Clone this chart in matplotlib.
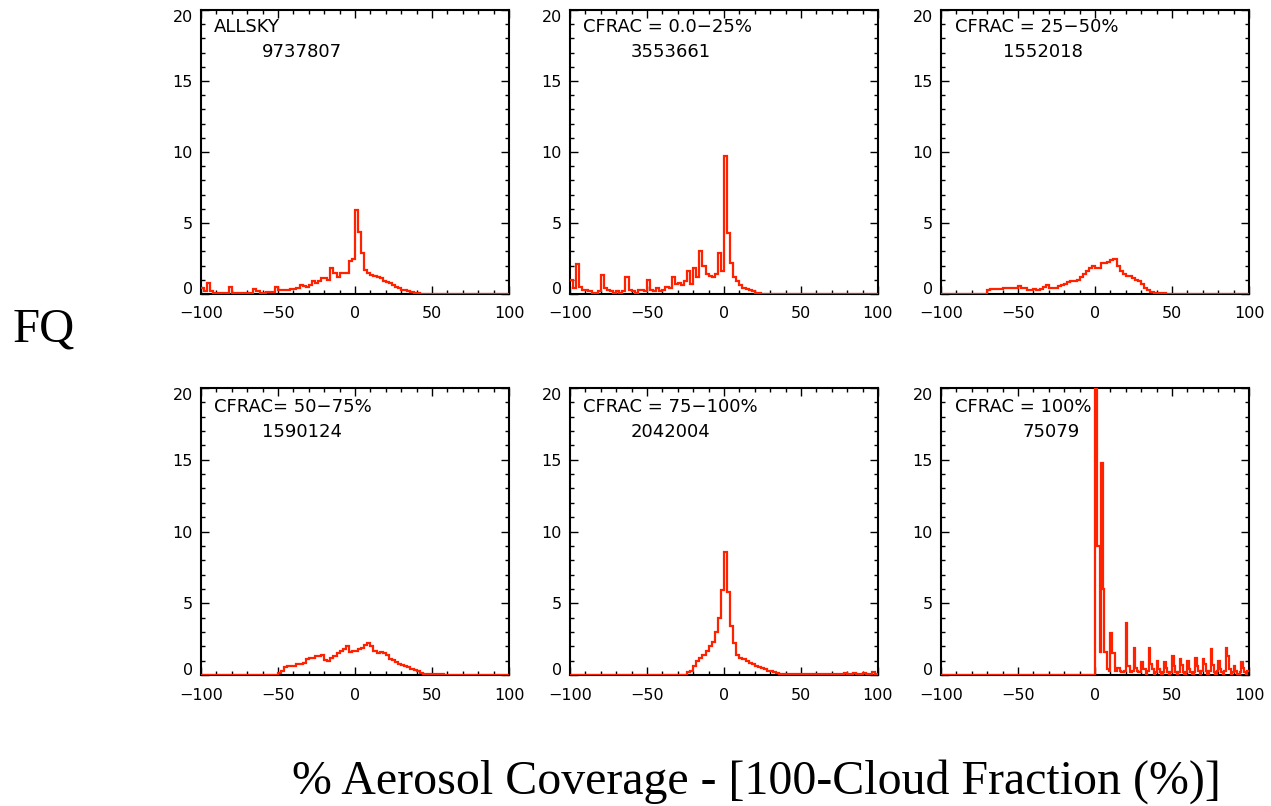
import numpy as np
import matplotlib
matplotlib.use("Agg")
import matplotlib.pyplot as plt
from matplotlib.ticker import MultipleLocator

# ---------------- data ----------------
titles = ["ALLSKY", "CFRAC = 0.0\u221225%", "CFRAC = 25\u221250%",
          "CFRAC= 50\u221275%", "CFRAC = 75\u2212100%", "CFRAC = 100%"]
counts = ["9737807", "3553661", "1552018", "1590124", "2042004", "75079"]
bin_starts = [-100, -100, -100, -100, -100, 0]
bin_widths = [2, 2, 2, 2, 2, 1]

fq_allsky = [
    0.4, 0.2, 0.8, 0.2, 0.1, 0.1, 0.1, 0.1, 0.1, 0.5,
    0.1, 0.1, 0.1, 0.1, 0.1, 0.1, 0.1, 0.35, 0.2, 0.1,
    0.1, 0.15, 0.15, 0.15, 0.5, 0.3, 0.25, 0.3, 0.3, 0.35,
    0.35, 0.4, 0.6, 0.55, 0.5, 0.6, 0.95, 0.8, 0.9, 1.1,
    1.1, 1.0, 1.8, 1.5, 1.2, 1.5, 1.5, 1.5, 2.3, 2.5,
    5.9, 4.4, 2.9, 1.7, 1.5, 1.35, 1.3, 1.2, 1.1, 0.95,
    0.85, 0.75, 0.6, 0.5, 0.4, 0.3, 0.25, 0.2, 0.12, 0.08,
    0.05, 0.03, 0, 0, 0, 0, 0, 0, 0, 0,
    0, 0, 0, 0, 0, 0, 0, 0, 0, 0,
    0, 0, 0, 0, 0, 0, 0, 0, 0, 0,
]
fq_cfrac_0_25 = [
    1.0, 0.4, 2.1, 0.5, 0.3, 0.3, 0.2, 0.1, 0.1, 0.2,
    1.35, 0.4, 0.3, 0.2, 0.1, 0.2, 0.1, 0.2, 1.2, 0.3,
    0.2, 0.1, 0.3, 0.3, 0.2, 1.0, 0.3, 0.2, 0.4, 0.2,
    0.3, 0.5, 0.4, 1.2, 0.7, 0.8, 0.6, 0.9, 1.6, 0.7,
    1.8, 1.2, 3.05, 2.0, 1.4, 1.3, 1.2, 1.4, 2.9, 1.6,
    9.7, 4.3, 2.2, 1.2, 0.9, 0.6, 0.4, 0.35, 0.3, 0.2,
    0.1, 0.05, 0.02, 0, 0, 0, 0, 0, 0, 0,
    0, 0, 0, 0, 0, 0, 0, 0, 0, 0,
    0, 0, 0, 0, 0, 0, 0, 0, 0, 0,
    0, 0, 0, 0, 0, 0, 0, 0, 0, 0,
]
fq_cfrac_25_50 = [
    0, 0, 0, 0, 0, 0, 0, 0, 0, 0,
    0, 0, 0, 0, 0, 0.3, 0.35, 0.35, 0.35, 0.35,
    0.4, 0.4, 0.4, 0.45, 0.45, 0.55, 0.4, 0.4, 0.3, 0.3,
    0.35, 0.3, 0.35, 0.5, 0.6, 0.45, 0.45, 0.45, 0.55, 0.65,
    0.7, 0.85, 0.9, 0.95, 1.0, 1.2, 1.4, 1.6, 1.85, 1.95,
    1.85, 1.85, 2.2, 2.2, 2.25, 2.4, 2.45, 2.0, 1.6, 1.4,
    1.3, 1.25, 1.15, 1.0, 0.9, 0.7, 0.45, 0.3, 0.15, 0.1,
    0.1, 0.05, 0.05, 0, 0, 0, 0, 0, 0, 0,
    0, 0, 0, 0, 0, 0, 0, 0, 0, 0,
    0, 0, 0, 0, 0, 0, 0, 0, 0, 0,
]
fq_cfrac_50_75 = [
    0, 0, 0, 0, 0, 0, 0, 0, 0, 0,
    0, 0, 0, 0, 0, 0, 0, 0, 0, 0,
    0, 0, 0, 0, 0, 0.15, 0.25, 0.55, 0.6, 0.6,
    0.65, 0.75, 0.8, 0.85, 1.1, 1.15, 1.2, 1.3, 1.3, 1.4,
    1.05, 1.0, 1.2, 1.3, 1.5, 1.7, 1.8, 2.0, 1.6, 1.65,
    1.7, 1.8, 1.9, 2.1, 2.2, 2.0, 1.7, 1.5, 1.6, 1.55,
    1.4, 1.1, 1.05, 0.9, 0.75, 0.7, 0.65, 0.55, 0.4, 0.35,
    0.3, 0.15, 0.1, 0.1, 0.1, 0.1, 0.05, 0.05, 0.05, 0,
    0, 0, 0, 0, 0, 0, 0, 0, 0, 0,
    0, 0, 0, 0, 0, 0, 0, 0, 0, 0,
]
fq_cfrac_75_100 = [
    0, 0, 0, 0, 0, 0, 0, 0, 0, 0,
    0, 0, 0, 0, 0, 0, 0, 0, 0, 0,
    0, 0, 0, 0, 0, 0, 0, 0, 0, 0,
    0, 0, 0, 0, 0, 0, 0, 0, 0.2, 0.25,
    0.6, 0.95, 1.2, 1.4, 1.7, 2.0, 2.3, 3.0, 4.0, 5.9,
    8.6, 5.8, 3.4, 2.2, 1.4, 1.15, 1.1, 1.0, 0.85, 0.8,
    0.65, 0.55, 0.5, 0.45, 0.3, 0.25, 0.2, 0.15, 0.1, 0.1,
    0.1, 0.1, 0.1, 0.1, 0.1, 0.1, 0.1, 0.1, 0.1, 0.1,
    0.1, 0.1, 0.1, 0.1, 0.05, 0.1, 0.05, 0.1, 0.05, 0.15,
    0.05, 0.1, 0.15, 0.05, 0.1, 0.15, 0.05, 0.1, 0.2, 0.1,
]
fq_cfrac_100 = [
    22.0, 9.0, 9.0, 1.6, 14.8, 6.0, 1.6, 1.6, 0.4, 0.3,
    2.9, 1.5, 1.5, 0.3, 0.5, 0.5, 0.3, 0.2, 0.2, 0.3,
    3.6, 0.6, 0.6, 0.2, 0.3, 1.9, 0.5, 0.3, 0.2, 0.2,
    0.9, 0.4, 0.4, 0.1, 0.3, 1.9, 0.8, 0.4, 0.1, 0.2,
    1.0, 0.4, 0.2, 0.1, 0.2, 0.9, 0.5, 0.2, 0.1, 0.2,
    1.3, 0.6, 0.2, 0.1, 0.2, 1.1, 0.7, 0.2, 0.1, 0.2,
    1.0, 0.4, 0.2, 0.1, 0.2, 1.2, 0.6, 0.3, 0.1, 0.3,
    1.1, 0.8, 0.3, 0.1, 0.3, 1.8, 0.7, 0.2, 0.1, 0.3,
    1.0, 0.4, 0.2, 0.1, 0.3, 1.9, 1.3, 0.4, 0.1, 0.2,
    0.6, 0.3, 0.1, 0.1, 0.2, 0.9, 0.5, 0.2, 0.1, 0.3,
]
series = [fq_allsky, fq_cfrac_0_25, fq_cfrac_25_50,
          fq_cfrac_50_75, fq_cfrac_75_100, fq_cfrac_100]

x_ticks = [-100, -50, 0, 50, 100]
y_ticks = [0, 5, 10, 15, 20]

# ---------------- layout ----------------
W, H = 1271, 806
fig = plt.figure(figsize=(W / 100, H / 100), dpi=100)

col_left = [201, 570, 941]
ax_w = 308
row_top = [10, 388]
row_h = [284, 287]
title_off = [(13, 17, 42, 61), (13, 17, 42, 61), (14, 17, 42, 62),
             (13, 19, 44, 61), (13, 19, 44, 61), (14, 19, 44, 81)]

red = "#ff2200"

for i, vals in enumerate(series):
    r, c = divmod(i, 3)
    left = col_left[c] / W
    bottom = 1 - (row_top[r] + row_h[r]) / H
    ax = fig.add_axes([left, bottom, ax_w / W, row_h[r] / H])

    w = bin_widths[i]
    x0 = bin_starts[i]
    edges = x0 + w * np.arange(len(vals) + 1)
    v = np.asarray(vals, dtype=float)
    if x0 > -100:
        edges = np.concatenate(([-100], edges))
        v = np.concatenate(([0.0], v))
    ax.stairs(v, edges, baseline=None, color=red, lw=1.6, zorder=3)

    ax.set_xlim(-100, 100)
    ax.set_ylim(0, 20)
    ax.set_xticks(x_ticks)
    ax.set_yticks(y_ticks)
    ax.xaxis.set_minor_locator(MultipleLocator(10))
    ax.yaxis.set_minor_locator(MultipleLocator(1))
    ax.tick_params(which="both", direction="in", top=True, right=True,
                   width=1.0, color="black")
    ax.tick_params(which="major", length=5.5)
    ax.tick_params(which="minor", length=2.8)
    ax.tick_params(axis="x", pad=9, labelsize=11.5)
    ax.tick_params(axis="y", pad=6, labelsize=11.5)
    for s in ax.spines.values():
        s.set_linewidth(1.5)
    fig.canvas.draw()
    ylabs = ax.get_yticklabels()
    ylabs[0].set_va("baseline")
    ylabs[-1].set_va("top")

    lx, ly, ny, nx = title_off[i]
    ax.text(lx / ax_w, 1 - ly / row_h[r], titles[i], transform=ax.transAxes,
            ha="left", va="center", fontsize=13, color="black")
    ax.text(nx / ax_w, 1 - ny / row_h[r], counts[i], transform=ax.transAxes,
            ha="left", va="center", fontsize=13, color="black")

fig.text(13 / W, 1 - 341 / H, "FQ", ha="left", va="baseline",
         family="Liberation Serif", fontsize=35)
fig.text(756 / W, 1 - 794 / H, "% Aerosol Coverage - [100-Cloud Fraction (%)]",
         ha="center", va="baseline", family="Liberation Serif", fontsize=34.5)

fig.savefig("out.png", dpi=100)
